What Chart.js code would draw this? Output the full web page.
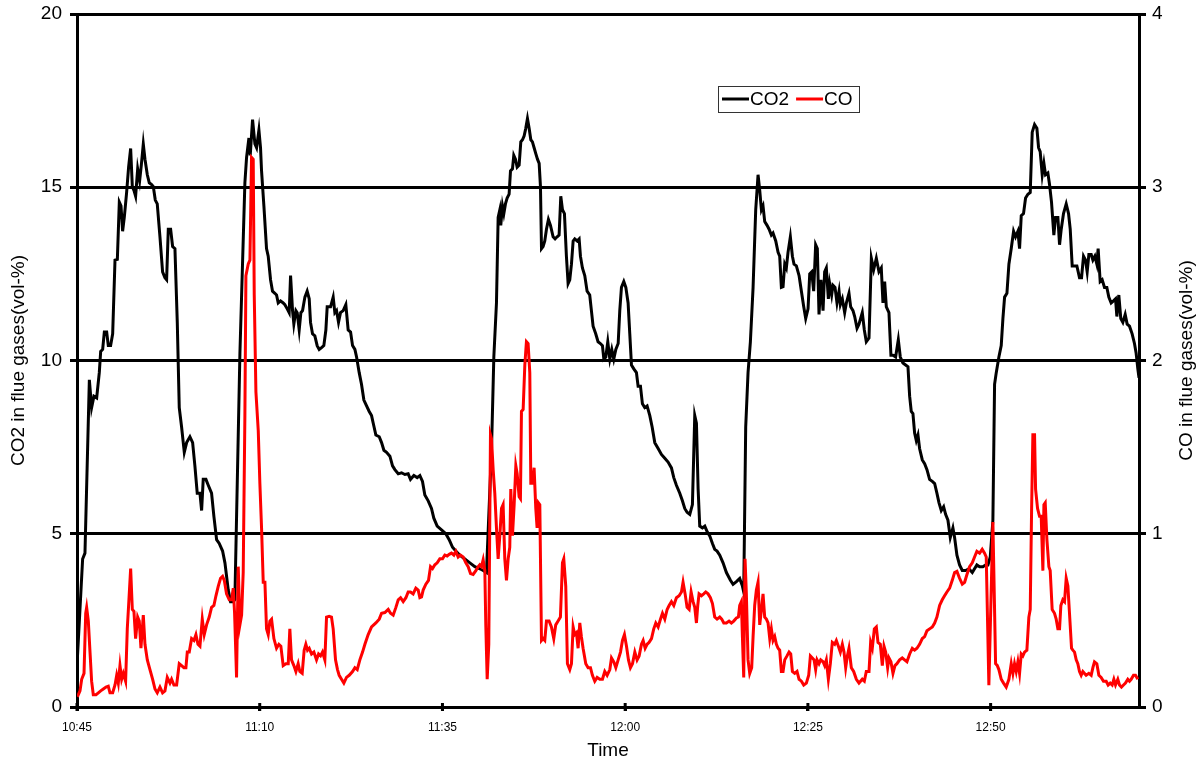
<!DOCTYPE html>
<html>
<head>
<meta charset="utf-8">
<script src="https://cdn.jsdelivr.net/npm/chart.js@4.4.1/dist/chart.umd.min.js"></script>
<style>
  html, body { margin: 0; padding: 0; background: #fff; }
  #wrap { width: 1201px; height: 760px; position: relative; }
</style>
</head>
<body>
<div id="wrap"><canvas id="c" width="1201" height="760"></canvas></div>
<script>
// ---- data (time in minutes after 10:45) ----
const xTickMinutes = [0, 25, 50, 75, 100, 125];
const xTickLabels = ['10:45', '11:10', '11:35', '12:00', '12:25', '12:50'];
const co2Ticks = [0, 5, 10, 15, 20];
const coTicks = [0, 1, 2, 3, 4];

const co2Time = [0,0.77,1.09,1.69,2.0,2.32,2.69,3.05,3.24,3.51,3.74,4.06,4.28,4.6,4.88,5.2,5.52,5.79,6.02,6.24,6.47,6.79,7.06,7.34,7.57,7.79,8.02,8.3,8.57,8.8,9.07,9.3,9.62,9.89,10.21,10.44,10.71,10.98,11.35,11.71,12.03,12.26,12.49,12.81,13.08,13.4,13.72,13.99,14.31,14.68,15.0,15.45,15.82,16.13,16.45,16.82,17.05,17.27,17.64,17.96,18.41,18.73,19.1,19.46,19.92,20.24,20.69,21.01,21.38,21.6,22.29,22.97,23.2,23.52,23.7,24.02,24.34,24.57,24.89,25.11,25.25,25.57,25.93,26.16,26.48,26.75,27.07,27.3,27.53,27.85,28.21,28.44,28.76,29.03,29.22,29.49,29.67,29.95,30.13,30.4,30.63,30.86,31.18,31.49,31.77,31.95,32.22,32.54,32.86,33.14,33.46,33.77,34.05,34.23,34.69,35.05,35.28,35.51,35.78,36.05,36.42,36.78,37.1,37.43,37.7,38.02,38.25,38.61,38.93,39.25,39.62,39.98,40.3,40.53,40.89,41.35,41.67,41.99,42.35,42.81,43.17,43.49,43.95,44.4,44.86,45.31,45.63,46.09,46.54,46.91,47.27,47.59,48.05,48.5,48.82,49.28,49.87,50.46,50.92,51.38,51.83,52.38,53.06,53.75,54.43,55.11,55.57,56.02,56.71,57.03,57.39,57.62,57.85,57.98,58.21,58.4,58.62,58.85,59.12,59.31,59.58,59.76,59.99,60.22,60.49,60.72,60.95,61.17,61.4,61.63,61.86,62.09,62.31,62.54,62.77,63.0,63.23,63.41,63.55,63.77,64.0,64.23,64.5,64.78,65.14,65.41,65.69,65.96,66.19,66.42,66.69,66.96,67.19,67.42,67.65,67.88,68.1,68.42,68.7,68.88,69.15,69.47,69.79,70.15,70.38,70.61,70.97,71.29,71.61,71.89,72.08,72.35,72.62,72.9,73.17,73.44,73.72,74.04,74.26,74.49,74.81,75.09,75.4,75.63,75.86,76.18,76.54,76.77,77.09,77.36,77.68,78.0,78.37,78.69,79.05,79.51,79.96,80.42,80.87,81.33,81.65,82.01,82.47,82.83,83.15,83.47,83.84,84.2,84.52,84.75,84.98,85.2,85.57,85.89,86.21,86.57,86.94,87.25,87.57,87.94,88.39,88.85,89.4,89.76,90.22,90.67,91.04,91.22,91.49,91.81,92.13,92.5,92.86,93.18,93.41,93.64,93.86,94.09,94.41,94.69,95.0,95.23,95.6,95.92,96.14,96.37,96.6,96.83,97.05,97.28,97.6,97.88,98.1,98.42,98.79,99.11,99.43,99.7,100.02,100.25,100.52,100.79,101.06,101.29,101.52,101.79,102.07,102.29,102.52,102.8,102.98,103.25,103.43,103.71,103.98,104.26,104.44,104.71,105.03,105.26,105.62,105.85,106.17,106.4,106.72,106.99,107.44,107.72,107.99,108.36,108.68,109.0,109.36,109.72,110.04,110.27,110.5,110.73,111.09,111.36,111.64,112.0,112.37,112.64,113.0,113.37,113.69,113.92,114.14,114.37,114.6,114.83,115.06,115.28,115.65,115.97,116.29,116.65,117.02,117.34,117.65,117.93,118.25,118.57,118.84,119.16,119.48,119.84,120.07,120.39,120.75,121.12,121.57,122.03,122.49,122.8,123.12,123.49,123.94,124.31,124.63,124.95,125.31,125.54,125.77,126.13,126.45,126.68,126.91,127.23,127.5,127.82,128.14,128.41,128.73,128.96,129.19,129.5,129.78,130.1,130.42,130.69,131.01,131.33,131.56,131.78,132.06,132.29,132.51,132.83,133.06,133.33,133.65,133.88,134.2,134.43,134.66,134.97,135.34,135.66,135.89,136.16,136.48,136.8,137.16,137.44,137.71,137.98,138.21,138.44,138.76,138.99,139.26,139.53,139.71,139.99,140.26,140.58,140.9,141.17,141.49,141.81,142.09,142.27,142.54,142.81,143.09,143.41,143.68,144.0,144.36,144.68,144.91,145.14,145.3];
const co2Values = [1.2,4.27,4.44,9.44,8.64,8.97,8.92,9.65,10.26,10.32,10.82,10.82,10.43,10.43,10.77,12.9,12.92,14.57,14.46,13.73,14.13,14.85,15.58,16.12,15.02,14.91,14.74,15.53,15.19,15.64,16.25,15.81,15.36,15.13,15.08,15.02,14.63,14.52,13.57,12.56,12.39,12.33,13.79,13.79,13.29,13.23,11.1,8.64,8.08,7.35,7.63,7.8,7.63,6.96,6.17,6.17,5.67,6.57,6.57,6.4,6.17,5.5,4.83,4.72,4.5,4.16,3.38,3.04,3.04,3.1,10.21,15.13,15.86,16.42,15.92,16.95,16.25,16.14,16.65,16.14,15.47,14.46,13.23,13.01,12.33,12.0,11.94,11.89,11.66,11.72,11.66,11.61,11.49,11.38,12.45,11.44,11.05,11.44,11.38,10.88,11.38,11.44,11.83,12.0,11.78,11.1,10.77,10.71,10.43,10.32,10.37,10.43,10.88,11.55,11.55,11.83,11.38,11.44,11.1,11.38,11.44,11.61,10.88,10.82,10.43,10.32,10.1,9.65,9.31,8.86,8.69,8.53,8.41,8.19,7.85,7.8,7.63,7.41,7.35,7.24,6.96,6.85,6.73,6.76,6.71,6.73,6.57,6.68,6.62,6.68,6.51,6.12,5.95,5.73,5.45,5.22,5.11,5.0,4.83,4.61,4.5,4.38,4.27,4.16,4.05,3.99,3.94,3.88,7.41,10.1,11.66,14.13,14.35,13.9,14.46,14.24,14.52,14.69,14.8,15.47,15.53,15.92,15.81,15.58,15.64,16.31,16.37,16.48,16.7,16.98,16.7,16.37,16.31,16.14,15.97,15.81,15.69,15.02,13.23,13.29,13.45,13.79,14.07,13.9,13.57,13.51,13.57,13.62,14.74,14.35,14.24,13.01,12.22,12.33,12.78,13.45,13.51,13.45,13.51,13.01,12.67,12.45,12.0,11.89,11.44,10.99,10.77,10.54,10.49,10.43,10.04,10.1,10.54,10.04,10.32,10.04,10.32,10.49,11.44,12.11,12.28,12.11,11.66,10.77,9.87,9.76,9.65,9.26,9.26,8.75,8.64,8.69,8.41,8.08,7.63,7.46,7.29,7.18,7.07,6.9,6.62,6.4,6.17,5.95,5.73,5.62,5.56,5.84,8.41,8.19,6.29,5.22,5.17,5.22,5.06,4.94,4.72,4.55,4.5,4.38,4.16,3.88,3.66,3.54,3.62,3.71,3.49,3.32,8.08,9.65,10.54,12.11,14.35,15.36,14.91,14.35,14.46,14.01,13.9,13.79,13.62,13.68,13.45,13.12,13.01,12.11,12.13,12.78,12.67,13.12,13.57,13.01,12.78,12.73,12.45,12.0,11.55,11.21,11.49,12.5,12.56,12.0,13.34,13.23,11.33,12.33,11.44,12.56,12.67,11.78,12.22,11.89,12.17,12.11,11.66,12.0,11.61,11.78,11.38,11.66,11.94,11.55,11.44,11.27,10.93,11.05,11.38,10.88,10.54,10.65,12.95,12.62,12.95,12.56,12.67,11.66,12.28,11.55,11.38,10.15,10.15,10.1,10.6,10.1,9.93,9.87,9.82,8.97,8.53,8.47,7.91,7.69,7.85,7.46,7.13,7.02,6.85,6.57,6.51,6.45,6.17,5.9,5.67,5.78,5.56,5.39,4.89,5.17,4.89,4.38,4.1,3.94,3.94,3.99,3.88,3.99,4.1,4.05,4.05,4.1,4.1,4.33,5.39,9.31,9.65,10.1,10.43,11.21,11.83,11.94,12.78,13.23,13.73,13.57,13.73,13.23,14.18,14.24,14.69,14.8,14.85,16.59,16.81,16.7,16.14,16.03,15.36,15.69,15.36,15.41,15.08,14.57,13.62,14.13,14.13,13.34,13.79,14.24,14.52,14.24,13.79,12.73,12.73,12.73,12.39,12.39,13.01,12.9,12.56,13.06,13.06,12.9,13.01,12.78,13.23,12.28,12.33,12.11,12.11,11.83,11.66,11.72,11.78,11.27,11.89,11.21,11.1,11.33,11.05,10.99,10.77,10.49,10.21,9.76,9.5];

const coTime = [0.05,0.41,0.64,0.96,1.19,1.32,1.55,1.78,2.0,2.23,2.6,2.92,3.24,3.6,3.97,4.28,4.51,4.88,5.2,5.43,5.65,5.88,6.11,6.34,6.65,6.88,7.06,7.34,7.57,7.79,8.02,8.3,8.52,8.75,9.07,9.3,9.62,9.98,10.35,10.67,10.98,11.35,11.71,12.03,12.35,12.72,12.94,13.26,13.63,13.99,14.31,14.63,14.9,15.09,15.36,15.68,16.0,16.27,16.55,16.82,17.14,17.41,17.73,18.09,18.41,18.73,19.01,19.33,19.64,19.92,20.15,20.46,20.83,21.15,21.38,21.56,21.83,22.06,22.29,22.52,22.74,22.97,23.11,23.43,23.66,23.88,24.11,24.25,24.48,24.8,25.02,25.25,25.48,25.71,25.93,26.16,26.39,26.62,26.94,27.3,27.62,27.89,28.21,28.58,28.9,29.12,29.35,29.67,29.95,30.26,30.49,30.81,31.08,31.31,31.54,31.77,32.09,32.41,32.77,33.05,33.32,33.59,33.91,34.14,34.5,34.82,35.05,35.37,35.64,35.87,36.19,36.51,36.87,37.24,37.7,38.02,38.34,38.7,39.07,39.39,39.84,40.3,40.89,41.35,41.67,42.12,42.58,42.9,43.26,43.63,43.95,44.27,44.63,45.0,45.31,45.63,45.99,46.36,46.68,46.91,47.14,47.36,47.73,48.09,48.37,48.64,48.96,49.28,49.64,50.01,50.33,50.65,50.92,51.24,51.56,51.83,52.15,52.47,52.83,53.2,53.52,53.84,54.2,54.57,54.89,55.11,55.34,55.57,55.8,55.93,56.12,56.34,56.57,56.71,56.94,57.16,57.39,57.62,57.85,58.08,58.3,58.53,58.76,58.99,59.21,59.35,59.58,59.81,60.04,60.22,60.49,60.67,60.81,61.04,61.27,61.49,61.72,61.95,62.09,62.31,62.54,62.77,62.95,63.13,63.32,63.55,63.77,64.0,64.23,64.59,64.91,65.23,65.5,65.82,66.14,66.42,66.6,66.87,67.1,67.42,67.65,67.88,68.1,68.33,68.56,68.79,69.01,69.24,69.61,69.93,70.25,70.52,70.84,71.16,71.52,71.89,72.21,72.53,72.9,73.13,73.44,73.72,74.04,74.36,74.63,74.9,75.18,75.45,75.72,76.0,76.32,76.63,76.91,77.23,77.46,77.73,78.0,78.28,78.6,78.91,79.19,79.51,79.83,80.1,80.42,80.74,81.01,81.33,81.65,82.01,82.38,82.7,82.92,83.2,83.47,83.75,84.02,84.29,84.52,84.75,84.93,85.11,85.43,85.75,86.02,86.34,86.66,86.94,87.25,87.57,87.94,88.21,88.49,88.85,89.21,89.53,89.85,90.22,90.49,90.67,90.9,91.04,91.22,91.4,91.58,91.81,92.04,92.31,92.5,92.72,92.95,93.18,93.41,93.68,93.86,94.09,94.32,94.55,94.78,95.0,95.23,95.46,95.69,95.92,96.14,96.37,96.6,96.83,97.14,97.42,97.65,97.88,98.19,98.51,98.79,99.11,99.43,99.79,100.11,100.34,100.61,100.84,101.06,101.25,101.52,101.75,102.07,102.29,102.52,102.8,103.07,103.34,103.66,103.89,104.17,104.44,104.71,104.94,105.17,105.4,105.62,105.94,106.26,106.63,106.99,107.44,107.72,107.99,108.36,108.58,108.81,109.09,109.36,109.59,109.91,110.18,110.41,110.64,110.91,111.09,111.36,111.64,111.91,112.18,112.55,112.91,113.23,113.55,113.92,114.28,114.6,114.92,115.28,115.65,115.97,116.29,116.65,117.02,117.34,117.65,118.02,118.38,118.7,119.02,119.39,119.75,120.07,120.39,120.75,121.12,121.44,121.76,122.12,122.49,122.8,123.12,123.49,123.85,124.17,124.4,124.76,125.31,125.68,125.9,126.13,126.45,126.77,127.13,127.5,127.82,128.05,128.27,128.5,128.73,128.96,129.19,129.41,129.64,129.96,130.23,130.42,130.6,130.78,131.01,131.15,131.42,131.69,131.92,132.15,132.29,132.47,132.7,132.97,133.15,133.42,133.74,133.97,134.2,134.43,134.61,134.88,135.11,135.34,135.57,135.79,136.07,136.25,136.48,136.71,136.93,137.16,137.39,137.62,137.85,138.07,138.44,138.76,138.99,139.21,139.53,139.81,140.12,140.44,140.81,141.08,141.36,141.63,141.86,142.09,142.4,142.63,142.9,143.18,143.45,143.77,144.0,144.23,144.55,144.82,145.14];
const coValues = [0.059,0.093,0.16,0.194,0.541,0.575,0.496,0.317,0.149,0.071,0.071,0.082,0.093,0.104,0.115,0.12,0.082,0.082,0.127,0.183,0.138,0.239,0.16,0.194,0.149,0.451,0.586,0.799,0.563,0.552,0.395,0.519,0.496,0.339,0.53,0.362,0.272,0.216,0.16,0.104,0.082,0.115,0.082,0.093,0.171,0.138,0.16,0.127,0.127,0.25,0.239,0.227,0.227,0.317,0.317,0.395,0.384,0.418,0.362,0.351,0.507,0.418,0.474,0.519,0.575,0.586,0.642,0.698,0.743,0.754,0.731,0.653,0.619,0.619,0.686,0.541,0.171,0.81,0.474,0.53,0.776,1.683,2.489,2.557,2.579,3.172,3.161,2.378,1.818,1.594,1.291,1.034,0.72,0.72,0.451,0.418,0.496,0.507,0.395,0.339,0.362,0.351,0.239,0.25,0.25,0.451,0.272,0.239,0.205,0.25,0.205,0.194,0.328,0.362,0.328,0.339,0.306,0.317,0.272,0.306,0.295,0.317,0.272,0.519,0.523,0.519,0.451,0.272,0.216,0.183,0.16,0.138,0.171,0.183,0.205,0.227,0.216,0.272,0.317,0.362,0.418,0.462,0.485,0.507,0.541,0.545,0.563,0.541,0.53,0.575,0.619,0.631,0.608,0.631,0.664,0.664,0.653,0.686,0.675,0.631,0.635,0.675,0.709,0.731,0.81,0.799,0.821,0.832,0.855,0.855,0.877,0.872,0.881,0.888,0.877,0.899,0.866,0.877,0.866,0.832,0.81,0.77,0.765,0.787,0.81,0.821,0.81,0.85,0.787,0.474,0.16,0.362,1.571,1.549,1.369,1.235,1.034,0.855,0.989,1.146,1.168,0.855,0.731,0.855,0.922,1.258,0.989,1.168,1.392,1.347,1.213,1.202,1.706,1.717,1.974,2.109,2.098,1.93,1.291,1.291,1.381,1.146,1.034,1.179,1.168,0.384,0.395,0.384,0.496,0.496,0.462,0.395,0.474,0.496,0.519,0.832,0.855,0.698,0.25,0.216,0.25,0.462,0.418,0.429,0.339,0.485,0.406,0.339,0.25,0.227,0.227,0.183,0.149,0.171,0.16,0.16,0.205,0.183,0.216,0.283,0.261,0.227,0.272,0.317,0.384,0.418,0.351,0.272,0.227,0.25,0.317,0.272,0.295,0.362,0.384,0.339,0.362,0.373,0.395,0.451,0.485,0.462,0.507,0.541,0.507,0.563,0.586,0.608,0.586,0.631,0.642,0.664,0.72,0.653,0.575,0.563,0.664,0.608,0.575,0.485,0.586,0.653,0.642,0.653,0.664,0.653,0.631,0.597,0.519,0.507,0.519,0.507,0.485,0.485,0.496,0.485,0.496,0.514,0.519,0.586,0.608,0.406,0.171,0.855,0.653,0.272,0.194,0.227,0.406,0.586,0.675,0.72,0.474,0.575,0.653,0.519,0.507,0.485,0.395,0.451,0.384,0.406,0.362,0.339,0.328,0.205,0.205,0.272,0.295,0.317,0.306,0.205,0.194,0.205,0.16,0.149,0.127,0.138,0.183,0.295,0.283,0.272,0.216,0.272,0.25,0.272,0.261,0.239,0.272,0.16,0.25,0.373,0.362,0.384,0.351,0.317,0.362,0.317,0.227,0.295,0.339,0.227,0.205,0.16,0.138,0.16,0.149,0.205,0.205,0.373,0.339,0.451,0.462,0.373,0.362,0.239,0.351,0.317,0.227,0.283,0.261,0.194,0.239,0.25,0.272,0.283,0.272,0.261,0.306,0.339,0.328,0.339,0.362,0.395,0.406,0.44,0.451,0.462,0.485,0.519,0.586,0.619,0.642,0.664,0.686,0.731,0.776,0.783,0.743,0.709,0.72,0.765,0.81,0.832,0.866,0.899,0.888,0.91,0.888,0.866,0.126,1.067,0.25,0.24,0.216,0.16,0.138,0.115,0.16,0.25,0.194,0.25,0.205,0.261,0.194,0.306,0.295,0.317,0.328,0.519,0.563,1.123,1.571,1.571,1.258,1.146,1.101,1.101,0.787,1.168,1.179,0.966,0.81,0.787,0.563,0.541,0.507,0.451,0.451,0.586,0.619,0.608,0.743,0.698,0.541,0.339,0.328,0.317,0.272,0.25,0.205,0.183,0.205,0.194,0.183,0.194,0.183,0.227,0.261,0.25,0.183,0.171,0.149,0.149,0.127,0.138,0.127,0.16,0.127,0.16,0.127,0.115,0.127,0.138,0.16,0.149,0.16,0.183,0.183,0.16];

const xMaxMinutes = 145.3;
const FONT = "'Liberation Sans', Arial, sans-serif";

const toXY = (ts, vs) => ts.map((t, i) => ({ x: t, y: vs[i] }));
const noPad = (s) => { s.paddingTop = 0; s.paddingBottom = 0; s.paddingLeft = 0; s.paddingRight = 0; };

const overlay = {
  id: 'overlay',
  afterDraw(chart) {
    const ctx = chart.ctx;
    const ca = chart.chartArea;
    const midY = (ca.top + ca.bottom) / 2;
    ctx.save();
    ctx.fillStyle = '#000';
    ctx.font = '19px ' + FONT;
    ctx.textAlign = 'center';
    ctx.textBaseline = 'middle';
    // left title
    ctx.save();
    ctx.translate(19, midY);
    ctx.rotate(-Math.PI / 2);
    ctx.fillText('CO2 in flue gases(vol-%)', 0, 0);
    ctx.restore();
    // right title
    ctx.save();
    ctx.translate(1187, midY);
    ctx.rotate(-Math.PI / 2);
    ctx.fillText('CO in flue gases(vol-%)', 0, 0);
    ctx.restore();

    // legend box
    const bx = 718, by = 86, bw = 141, bh = 26;
    ctx.fillStyle = '#fff';
    ctx.fillRect(bx, by, bw, bh);
    ctx.strokeStyle = '#333';
    ctx.lineWidth = 1;
    ctx.strokeRect(bx + 0.5, by + 0.5, bw, bh);
    const ds = chart.data.datasets;
    let x = bx + 4;
    const ly = by + 13;
    ctx.textAlign = 'left';
    ds.forEach((d) => {
      ctx.strokeStyle = d.borderColor;
      ctx.lineWidth = 3;
      ctx.beginPath();
      ctx.moveTo(x, ly);
      ctx.lineTo(x + 27, ly);
      ctx.stroke();
      ctx.fillStyle = '#000';
      ctx.fillText(d.label, x + 28, ly + 1);
      x += 28 + ctx.measureText(d.label).width + 7;
    });

    // x-axis tick marks crossing the axis line
    const xs = chart.scales.x;
    ctx.strokeStyle = '#000';
    ctx.lineWidth = 3;
    xTickMinutes.forEach((m) => {
      const px = xs.getPixelForValue(m);
      ctx.beginPath();
      ctx.moveTo(px, ca.bottom - 4);
      ctx.lineTo(px, ca.bottom + 4);
      ctx.stroke();
    });
    ctx.restore();
  }
};

new Chart(document.getElementById('c'), {
  type: 'line',
  data: {
    datasets: [
      { label: 'CO2', data: toXY(co2Time, co2Values), yAxisID: 'y', borderColor: '#000000', borderWidth: 3, pointRadius: 0, tension: 0, order: 2 },
      { label: 'CO', data: toXY(coTime, coValues), yAxisID: 'y2', borderColor: '#FF0000', borderWidth: 3, pointRadius: 0, tension: 0, order: 1 }
    ]
  },
  options: {
    responsive: false,
    animation: false,
    layout: { padding: { top: 14, bottom: 0, left: 0, right: 0 } },
    plugins: { legend: { display: false }, tooltip: { enabled: false } },
    scales: {
      x: {
        type: 'linear',
        min: 0,
        max: xMaxMinutes,
        afterBuildTicks: (s) => { s.ticks = xTickMinutes.map(v => ({ value: v })); },
        afterFit: (s) => { s.height = 53; noPad(s); },
        ticks: {
          autoSkip: false,
          maxRotation: 0,
          padding: 9,
          color: '#000',
          font: { family: FONT, size: 12 },
          callback: (v) => { const i = xTickMinutes.indexOf(v); return i >= 0 ? xTickLabels[i] : ''; }
        },
        grid: { drawOnChartArea: false, drawTicks: true, tickLength: 4, color: '#000', lineWidth: 3 },
        border: { display: true, color: '#000', width: 3 },
        title: { display: true, text: 'Time', color: '#000', font: { family: FONT, size: 19 }, padding: { top: 0, bottom: -2 } }
      },
      y: {
        position: 'left',
        min: 0,
        max: 20,
        afterBuildTicks: (s) => { s.ticks = co2Ticks.map(v => ({ value: v })); },
        afterFit: (s) => { s.width = 77; noPad(s); },
        ticks: { color: '#000', padding: 8, font: { family: FONT, size: 19 } },
        grid: { color: '#000', lineWidth: 3, drawTicks: true, tickLength: 7 },
        border: { display: true, color: '#000', width: 3 }
      },
      y2: {
        position: 'right',
        min: 0,
        max: 4,
        afterBuildTicks: (s) => { s.ticks = coTicks.map(v => ({ value: v })); },
        afterFit: (s) => { s.width = 62; noPad(s); },
        ticks: { color: '#000', padding: 6, font: { family: FONT, size: 19 } },
        grid: { drawOnChartArea: false, color: '#000', lineWidth: 3, drawTicks: true, tickLength: 7 },
        border: { display: true, color: '#000', width: 3 }
      }
    }
  },
  plugins: [overlay]
});
</script>
</body>
</html>
